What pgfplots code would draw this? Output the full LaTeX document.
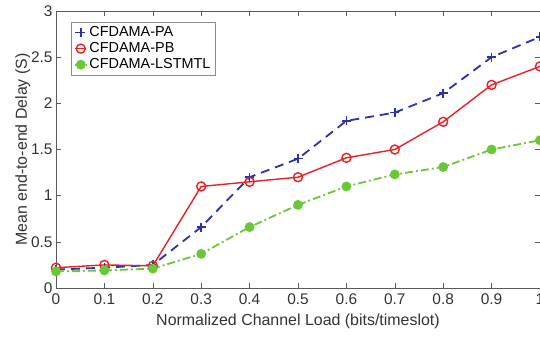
\documentclass[border=0pt]{standalone}
\usepackage{fontspec}
\setmainfont{Liberation Sans}
\usepackage{pgfplots}
\pgfplotsset{compat=1.18}
\definecolor{cblue}{RGB}{40,50,170}
\definecolor{cred}{RGB}{235,30,35}
\definecolor{cgreen}{RGB}{105,200,55}
\definecolor{axgray}{RGB}{90,90,90}
\begin{document}
\begin{tikzpicture}
\begin{axis}[
  at={(0,0)}, anchor=south west,
  scale only axis, width=484bp, height=277bp,
  xmin=0, xmax=1, ymin=0, ymax=3,
  xtick={0,0.1,...,1.0},
  xticklabels={0,0.1,0.2,0.3,0.4,0.5,0.6,0.7,0.8,0.9,1},
  ytick={0,0.5,1,1.5,2,2.5,3},
  yticklabels={0,0.5,1,1.5,2,2.5,3},
  tick align=inside,
  axis line style={axgray, line width=0.6pt},
  tick style={axgray, line width=0.6pt},
  major tick length=5bp,
  ticklabel style={font=\fontsize{15.5}{18}\selectfont, text=black!80},
  xticklabel style={yshift=-2bp},
  label style={font=\fontsize{16}{19}\selectfont, text=black!80},
  xlabel={Normalized Channel Load (bits/timeslot)},
  ylabel={Mean end-to-end Delay (S)},
  xlabel style={yshift=-3bp},
  ylabel style={yshift=-6bp},
  legend style={at={(0.031,0.96)}, anchor=north west, draw=black!45,
    font=\fontsize{14.5}{17.5}\selectfont, row sep=0.5bp, inner xsep=3bp, inner ysep=2.5bp},
  legend cell align=left,
  legend image code/.code={
    \draw[mark repeat=2,mark phase=2,#1] plot coordinates {(0cm,0cm) (0.2cm,0cm) (0.4cm,0cm)};
  },
  clip=false,
]
\addplot[cblue, dash pattern=on 9bp off 6bp, line width=1.8pt, mark=+, mark size=4.5bp, mark options={solid, line width=1.5pt}]
coordinates {(0,0.20) (0.1,0.22) (0.2,0.25) (0.3,0.66) (0.4,1.20) (0.5,1.40) (0.6,1.81) (0.7,1.90) (0.8,2.11) (0.9,2.50) (1.0,2.72)};
\addlegendentry{CFDAMA-PA}
\addplot[cred, solid, line width=1.4pt, mark=o, mark size=4.5bp, mark options={solid, line width=1.4pt}]
coordinates {(0,0.22) (0.1,0.25) (0.2,0.24) (0.3,1.10) (0.4,1.15) (0.5,1.20) (0.6,1.41) (0.7,1.50) (0.8,1.80) (0.9,2.20) (1.0,2.40)};
\addlegendentry{CFDAMA-PB}
\addplot[cgreen, dash pattern=on 8bp off 3bp on 2bp off 3bp, line width=1.8pt, mark=*, mark size=4bp, mark options={solid, fill=cgreen}]
coordinates {(0,0.18) (0.1,0.19) (0.2,0.21) (0.3,0.37) (0.4,0.66) (0.5,0.90) (0.6,1.10) (0.7,1.23) (0.8,1.31) (0.9,1.50) (1.0,1.60)};
\addlegendentry{CFDAMA-LSTMTL}
\end{axis}
\pgfresetboundingbox
\path[use as bounding box] (-56bp,-49bp) rectangle (484bp,288bp);
\end{tikzpicture}
\end{document}
